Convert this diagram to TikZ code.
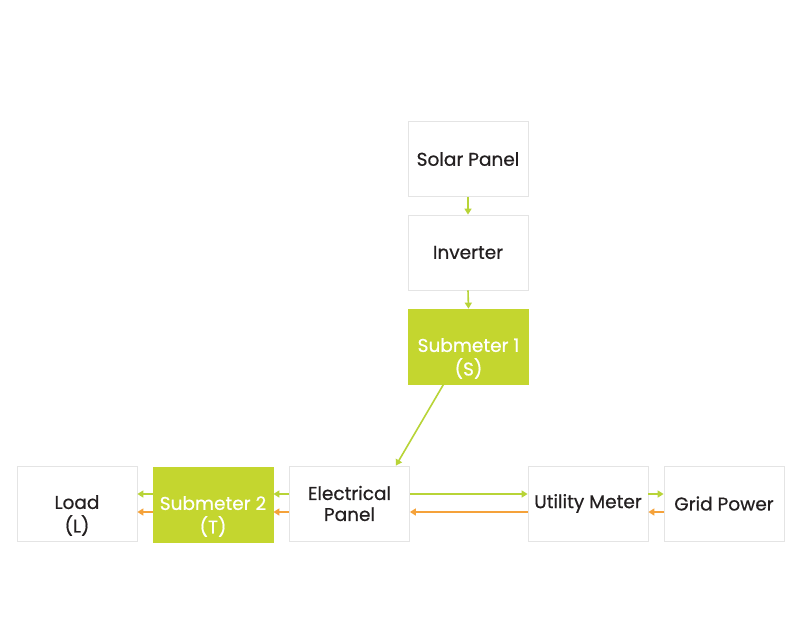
\documentclass[tikz,border=0pt]{standalone}
\usepackage{fontspec}
\setmainfont{Poppins}[FakeBold=0.6]
\usetikzlibrary{arrows.meta}
\definecolor{lime}{HTML}{C4D62F}
\definecolor{limeline}{HTML}{B8D437}
\definecolor{orng}{HTML}{F5A23A}
\definecolor{boxline}{HTML}{E4E4E4}
\definecolor{txt}{HTML}{231F20}
\newcommand{\lowtwo}[2]{\raisebox{-13pt}[\height][\depth]{\begin{tabular}{@{}c@{}}#1\\#2\end{tabular}}}
\tikzset{
  box/.style={draw=boxline, line width=0.8pt, minimum width=120pt, minimum height=75pt, inner sep=0pt, align=center, font=\fontsize{18.5}{21}\selectfont, text=txt},
  gbox/.style={box, fill=lime, draw=lime, text=white},
  garr/.style={draw=limeline, line width=1.6pt, -{Triangle[length=6pt,width=7pt]}},
  oarr/.style={draw=orng, line width=1.6pt, -{Triangle[length=6pt,width=7pt]}},
}
\begin{document}
\begin{tikzpicture}[x=1pt,y=-1pt]
\useasboundingbox[fill=white] (0,0) rectangle (800,640);
\node[box] (solar) at (468,159) {Solar Panel};
\node[box] (inv) at (468,252.5) {Inverter};
\node[gbox] (s1) at (468.5,346.5) {\lowtwo{Submeter 1}{(S)}};
\node[box] (load) at (77,503.5) {\lowtwo{Load}{(L)}};
\node[gbox] (s2) at (213,504.5) {\lowtwo{Submeter 2}{(T)}};
\node[box] (ep) at (349.5,503.5) {Electrical\\Panel};
\node[box] (um) at (588,503.5) {Utility Meter};
\node[box] (grid) at (724,503.5) {Grid Power};
\coordinate (s1o) at ([xshift=-25pt]s1.south);
\coordinate (epi) at ([xshift=-14pt]ep.north east);

\draw[garr] (solar.south) -- (inv.north);
\draw[garr] (inv.south) -- (s1.north);
\draw[garr] (s1o) -- (epi);

\coordinate (a1) at (0,494);
\coordinate (a2) at (0,512);
\draw[garr] (ep.west |- a1) -- (s2.east |- a1);
\draw[oarr] (ep.west |- a2) -- (s2.east |- a2);
\draw[garr] (s2.west |- a1) -- (load.east |- a1);
\draw[oarr] (s2.west |- a2) -- (load.east |- a2);
\draw[garr] (ep.east |- a1) -- (um.west |- a1);
\draw[oarr] (um.west |- a2) -- (ep.east |- a2);
\draw[garr] (um.east |- a1) -- (grid.west |- a1);
\draw[oarr] (grid.west |- a2) -- (um.east |- a2);
\end{tikzpicture}
\end{document}
